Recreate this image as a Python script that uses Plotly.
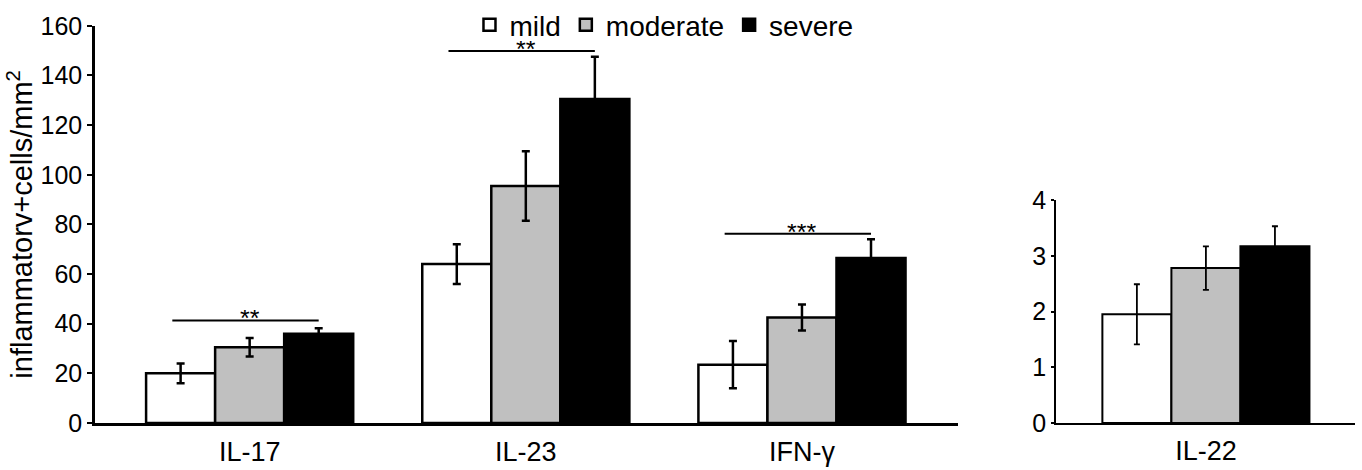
import plotly.graph_objects as go
from plotly.subplots import make_subplots

# ---- data ----
groups_left = ["IL-17", "IL-23", "IFN-γ"]
groups_right = ["IL-22"]
series = ["mild", "moderate", "severe"]

mild_left = [20, 64, 23.5]
mild_left_err = [4, 8, 9.5]
moderate_left = [30.5, 95.5, 42.5]
moderate_left_err = [3.7, 14, 5.2]
severe_left = [36, 130.5, 66.5]
severe_left_err = [2.2, 17, 7.5]

mild_right = [1.95]
mild_right_err = [0.54]
moderate_right = [2.78]
moderate_right_err = [0.39]
severe_right = [3.17]
severe_right_err = [0.36]

sig_labels = ["**", "**", "***"]
sig_heights = [41.3, 149.8, 76.2]

colors = {"mild": "#ffffff", "moderate": "#c0c0c0", "severe": "#000000"}

FONT = "Arial, Liberation Sans, sans-serif"

fig = make_subplots(rows=1, cols=2)

left_vals = {"mild": (mild_left, mild_left_err),
             "moderate": (moderate_left, moderate_left_err),
             "severe": (severe_left, severe_left_err)}
right_vals = {"mild": (mild_right, mild_right_err),
              "moderate": (moderate_right, moderate_right_err),
              "severe": (severe_right, severe_right_err)}

for s in series:
    v, e = left_vals[s]
    fig.add_trace(go.Bar(
        x=groups_left, y=v, name=s, legendgroup=s,
        marker=dict(color=colors[s], line=dict(color="black", width=2.5)),
        error_y=dict(type="data", array=e, visible=True, color="black",
                     thickness=2.5, width=4),
    ), row=1, col=1)
for s in series:
    v, e = right_vals[s]
    fig.add_trace(go.Bar(
        x=groups_right, y=v, name=s, legendgroup=s, showlegend=False,
        marker=dict(color=colors[s], line=dict(color="black", width=2)),
        error_y=dict(type="data", array=e, visible=True, color="black",
                     thickness=1.8, width=3),
    ), row=1, col=2)

# significance bars
for i, (lab, h) in enumerate(zip(sig_labels, sig_heights)):
    fig.add_shape(type="line", xref="x", yref="y",
                  x0=i - 0.28, x1=i + 0.25, y0=h, y1=h,
                  line=dict(color="black", width=2))
    fig.add_annotation(xref="x", yref="y", x=i, y=h,
                       text=lab, showarrow=False, yanchor="middle",
                       height=16, valign="middle", borderpad=0,
                       font=dict(family=FONT, size=25, color="black"), yshift=2)

fig.update_layout(
    width=1362, height=470,
    margin=dict(l=0, r=0, t=0, b=47),
    paper_bgcolor="white", plot_bgcolor="white",
    barmode="group", bargap=0.25, bargroupgap=0,
    font=dict(family=FONT, color="black"),
    legend=dict(orientation="h", x=0.3447, xanchor="left", y=1.0, yanchor="top",
                font=dict(size=28, family=FONT), itemwidth=30,
                bgcolor="rgba(0,0,0,0)", traceorder="normal"),
    xaxis=dict(domain=[95 / 1362, 958 / 1362], range=[-0.56, 2.565],
               showline=True, linecolor="black", linewidth=2.5, ticks="",
               ticklabelstandoff=3,
               tickfont=dict(size=27, family=FONT), showgrid=False, zeroline=False,
               automargin=False),
    yaxis=dict(domain=[0, 0.939], range=[0, 160], dtick=20,
               showline=True, linecolor="black", linewidth=2.5,
               ticks="outside", ticklen=5, tickwidth=2, tickcolor="black",
               ticklabelstandoff=0,
               tickfont=dict(size=25, family=FONT), showgrid=False, zeroline=False,
               automargin=False,
               title=dict(text="inflammatorv+cells/mm<sup>2</sup>",
                          font=dict(size=29, family=FONT), standoff=0)),
    xaxis2=dict(domain=[1056 / 1362, 1355 / 1362], range=[-0.543, 0.54],
                showline=True, linecolor="black", linewidth=2, ticks="",
                ticklabelstandoff=3,
                tickfont=dict(size=27, family=FONT), showgrid=False, zeroline=False,
                automargin=False),
    yaxis2=dict(domain=[0, 0.527], range=[0, 4], dtick=1,
                showline=True, linecolor="black", linewidth=1.5,
                ticks="outside", ticklen=3, tickwidth=1.5, tickcolor="black",
                ticklabelstandoff=0,
                tickfont=dict(size=25, family=FONT), showgrid=False, zeroline=False,
                automargin=False),
)

fig.write_html("out.html", config={"displayModeBar": False},
               post_script="document.body.style.margin='0px';")
